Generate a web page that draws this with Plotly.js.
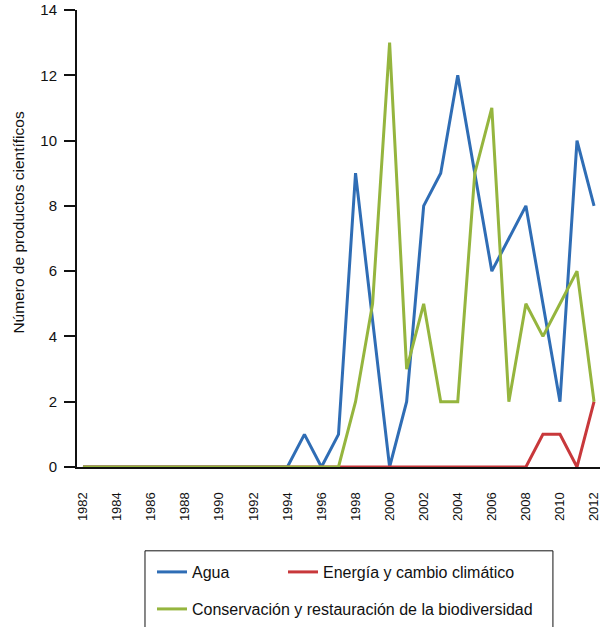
<!DOCTYPE html>
<html><head><meta charset="utf-8">
<script src="https://cdn.plot.ly/plotly-3.0.1.min.js"></script>
<style>html,body{margin:0;padding:0;background:#fff}#chart{width:602px;height:627px}</style>
</head><body><div id="chart"></div>
<script>
const years = [1982,1983,1984,1985,1986,1987,1988,1989,1990,1991,1992,1993,1994,1995,1996,1997,1998,1999,2000,2001,2002,2003,2004,2005,2006,2007,2008,2009,2010,2011,2012];
const agua = [0,0,0,0,0,0,0,0,0,0,0,0,0,1,0,1,9,4.5,0,2,8,9,12,9,6,7,8,5,2,10,8];
const energia = [0,0,0,0,0,0,0,0,0,0,0,0,0,0,0,0,0,0,0,0,0,0,0,0,0,0,0,1,1,0,2];
const conservacion = [0,0,0,0,0,0,0,0,0,0,0,0,0,0,0,0,2,5,13,3,5,2,2,9,11,2,5,4,5,6,2];
const xTickVals = [1982,1984,1986,1988,1990,1992,1994,1996,1998,2000,2002,2004,2006,2008,2010,2012];
const xTickText = ['1982','1984','1986','1988','1990','1992','1994','1996','1998','2000','2002','2004','2006','2008','2010','2012'];
const yTickVals = [0,2,4,6,8,10,12,14];
const seriesNames = ['Agua','Energía y cambio climático','Conservación y restauración de la biodiversidad'];
const yTitle = 'Número de productos científicos';

const FONT = 'Liberation Sans, Arial, Helvetica, sans-serif';
const traces = [
  {x: years, y: agua, name: seriesNames[0], type: 'scatter', mode: 'lines',
   line: {color: '#2f6db5', width: 3}, legend: 'legend', legendwidth: 86},
  {x: years, y: energia, name: seriesNames[1], type: 'scatter', mode: 'lines',
   line: {color: '#c8383b', width: 3}, legend: 'legend', legendwidth: 240},
  {x: years, y: conservacion, name: seriesNames[2], type: 'scatter', mode: 'lines',
   line: {color: '#95b53e', width: 3}, legend: 'legend2'}
];
const layout = {
  width: 602, height: 627,
  margin: {l: 77, r: 2, t: 10, b: 159},
  paper_bgcolor: '#fff', plot_bgcolor: '#fff',
  font: {family: FONT, color: '#111'},
  showlegend: true,
  xaxis: {
    range: [1981.65, 2012.35], tickmode: 'array', tickvals: xTickVals, ticktext: xTickText,
    tickangle: -90, ticks: '', showgrid: false, zeroline: false,
    showline: true, linecolor: '#111', linewidth: 2,
    tickfont: {size: 13, family: FONT, color: '#111'}, ticklabelstandoff: 18
  },
  yaxis: {
    range: [0, 14], tickmode: 'array', tickvals: yTickVals,
    ticks: 'outside', ticklen: 11, tickwidth: 2, tickcolor: '#111',
    showgrid: false, zeroline: false, showline: true, linecolor: '#111', linewidth: 2,
    tickfont: {size: 15, family: FONT, color: '#111'}, ticklabelstandoff: 4
  },
  annotations: [{text: yTitle, xref: 'paper', yref: 'paper', x: -0.1109, y: 0.537,
    xanchor: 'center', yanchor: 'middle', textangle: -90, showarrow: false,
    font: {size: 15.5, family: FONT, color: '#111'}}],
  legend: {orientation: 'h', x: 0.1434, xanchor: 'left', y: -0.2271, yanchor: 'middle',
    bgcolor: 'rgba(0,0,0,0)', borderwidth: 0,
    font: {size: 16, family: FONT, color: '#111'}},
  legend2: {orientation: 'h', x: 0.1434, xanchor: 'left', y: -0.3079, yanchor: 'middle',
    bgcolor: 'rgba(0,0,0,0)', borderwidth: 0,
    font: {size: 16, family: FONT, color: '#111'}},
  shapes: [{type: 'rect', xref: 'paper', yref: 'paper', x0: 0.130, x1: 0.910, y0: -0.42, y1: -0.1834,
    line: {color: '#111', width: 1}, fillcolor: 'rgba(0,0,0,0)'}]
};
Plotly.newPlot('chart', traces, layout, {displayModeBar: false, staticPlot: true});
</script></body></html>
